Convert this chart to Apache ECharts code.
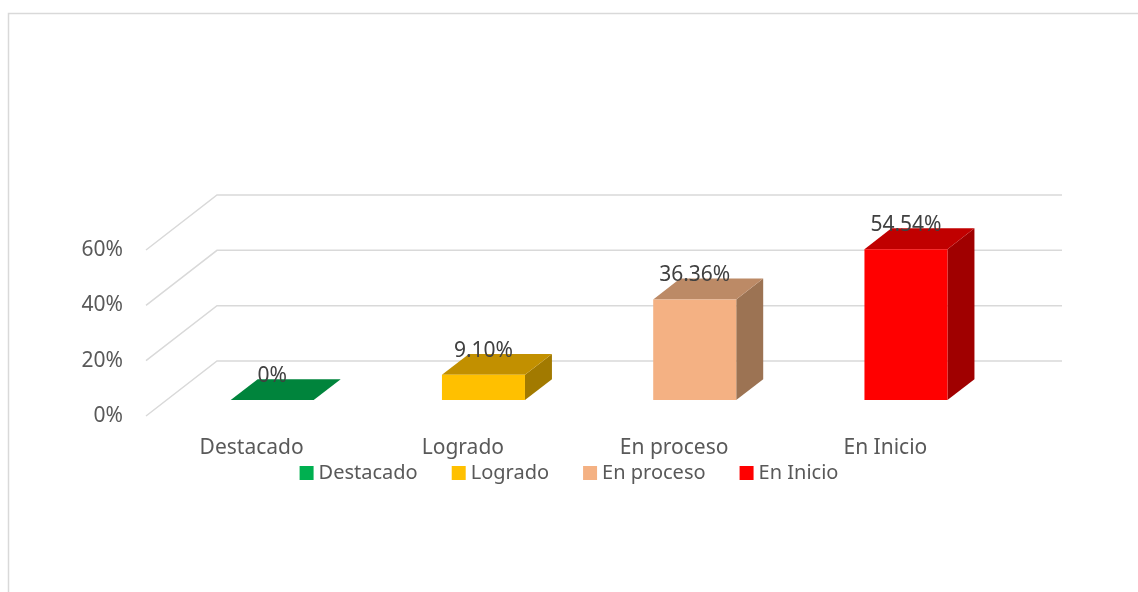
<!DOCTYPE html>
<html>
<head>
<meta charset="utf-8">
<script src="https://cdn.jsdelivr.net/npm/echarts@6/dist/echarts.min.js"></script>
<style>
  html, body { margin: 0; padding: 0; background: #fff; }
  #main { width: 1138px; height: 592px; }
</style>
</head>
<body>
<div id="main"></div>
<script>
// datos
var categorias = ['Destacado', 'Logrado', 'En proceso', 'En Inicio'];
var valores = [0, 9.10, 36.36, 54.54];
var ticksY = [0, 20, 40, 60];

// colores: frente, tapa, lado
var colFrente = ['#00B050', '#FFC000', '#F4B183', '#FF0000'];
var colTapa = ['#00843C', '#C29000', '#BC8A66', '#C00000'];
var colLado = ['#00703A', '#A27A00', '#9C7353', '#A00000'];

// profundidad del efecto 3D (px)
var PROF_X = 71, PROF_Y = 55;
var F0 = 0.29, F1 = 0.67;   // posicion de la barra dentro de la profundidad
var ANCHO = 0.393;

var myChart = echarts.init(document.getElementById('main'));

function fmt(v) {
  return v === 0 ? '0%' : v.toFixed(2) + '%';
}

// lineas de cuadricula en perspectiva
function renderGrid(params, api) {
  var cs = params.coordSys;
  var y = api.coord([0, api.value(1)])[1];
  var x = cs.x;
  return {
    type: 'polyline',
    shape: { points: [[x, y], [x + PROF_X, y - PROF_Y], [x + cs.width + PROF_X, y - PROF_Y]] },
    style: { stroke: '#D9D9D9', lineWidth: 1.5, fill: null },
    silent: true
  };
}

function renderBarra(idx) {
  return function (params, api) {
    var base = api.coord([api.value(0), 0]);
    var top = api.coord([api.value(0), api.value(1)]);
    var w = api.size([1, 0])[0] * ANCHO;
    var ox = PROF_X * F0, oy = -PROF_Y * F0;
    var dx = PROF_X * (F1 - F0), dy = -PROF_Y * (F1 - F0);
    var x0 = base[0] + ox - w / 2, x1 = x0 + w;
    var yb = base[1] + oy, yt = top[1] + oy;
    return {
      type: 'group',
      children: [
        {
          type: 'polygon',
          shape: { points: [[x1, yb], [x1 + dx, yb + dy], [x1 + dx, yt + dy], [x1, yt]] },
          style: { fill: colLado[idx] }
        },
        {
          type: 'polygon',
          shape: { points: [[x0, yt], [x1, yt], [x1 + dx, yt + dy], [x0 + dx, yt + dy]] },
          style: { fill: colTapa[idx] }
        },
        {
          type: 'rect',
          shape: { x: x0, y: yt, width: w, height: yb - yt },
          style: { fill: colFrente[idx] }
        },
        {
          type: 'text',
          style: {
            text: fmt(api.value(1)),
            x: (x0 + x1) / 2,
            y: yt - 24,
            align: 'center',
            verticalAlign: 'middle',
            fill: '#404040',
            fontSize: 21,
            fontFamily: 'Noto Sans'
          }
        }
      ]
    };
  };
}

var series = [{
  type: 'custom',
  name: 'grid',
  renderItem: renderGrid,
  data: ticksY.map(function (t) { return [0, t]; }),
  clip: false,
  silent: true,
  z: 1
}];

for (var i = 0; i < categorias.length; i++) {
  series.push({
    type: 'custom',
    name: categorias[i],
    renderItem: renderBarra(i),
    itemStyle: { color: colFrente[i] },
    data: [[i, valores[i]]],
    clip: false,
    z: 2
  });
}

var option = {
  animation: false,
  textStyle: { fontFamily: 'Noto Sans' },
  graphic: [{
    type: 'rect',
    shape: { x: 8.5, y: 13.5, width: 1300, height: 800 },
    style: { fill: null, stroke: '#D9D9D9', lineWidth: 1.5 },
    silent: true
  }],
  grid: { left: 146, right: 147, top: 250, bottom: 176 },
  legend: {
    data: categorias,
    top: 458,
    left: 'center',
    icon: 'rect',
    itemWidth: 14,
    itemHeight: 14,
    itemGap: 34,
    textStyle: { fontSize: 20, color: '#595959', fontFamily: 'Noto Sans' }
  },
  xAxis: {
    type: 'category',
    data: categorias,
    axisLine: { show: false },
    axisTick: { show: false },
    axisLabel: { fontSize: 21, color: '#595959', margin: 22, fontFamily: 'Noto Sans' }
  },
  yAxis: {
    type: 'value',
    min: 0,
    max: 60,
    interval: 20,
    axisLine: { show: false },
    axisTick: { show: false },
    splitLine: { show: false },
    axisLabel: {
      fontSize: 21, color: '#595959', margin: 23, fontFamily: 'Noto Sans',
      formatter: function (v) { return v + '%'; }
    }
  },
  series: series
};

myChart.setOption(option);
</script>
</body>
</html>
